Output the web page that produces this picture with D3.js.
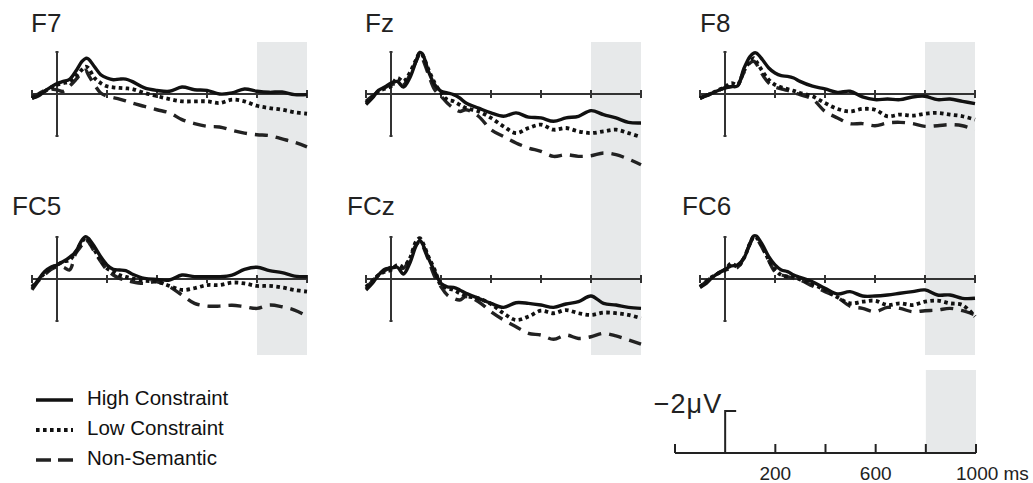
<!DOCTYPE html>
<html>
<head>
<meta charset="utf-8">
<script src="https://cdn.jsdelivr.net/npm/d3@7"></script>
<style>
  body { margin: 0; background: #fff; }
  svg { display: block; font-family: "Liberation Sans", Arial, sans-serif; }
</style>
</head>
<body>
<svg id="chart" width="1033" height="483"></svg>
<script>
// ERP grand averages, µV (negative plotted up), sampled at these latencies (ms)
var times = [-100,-75,-50,-25,0,25,50,75,100,115,125,150,175,200,225,250,275,300,
             350,400,450,500,550,600,650,700,750,800,850,900,950,1000];

var conditions = ["High Constraint", "Low Constraint", "Non-Semantic"];

var f7High = [0.2,0.1,-0.13,-0.33,-0.5,-0.6,-0.7,-1.08,-1.55,-1.7,-1.67,-1.3,-0.92,-0.76,-0.68,-0.71,-0.71,-0.6,-0.29,-0.17,-0.13,-0.33,-0.2,-0.17,0,-0.05,-0.24,-0.13,-0.08,-0.1,0.03,0.03];
var f7Low  = [0.2,0.05,-0.13,-0.3,-0.44,-0.52,-0.6,-0.84,-1.16,-1.3,-1.24,-0.76,-0.52,-0.37,-0.32,-0.29,-0.27,-0.24,-0.05,0.1,0.24,0.35,0.35,0.35,0.43,0.27,0.35,0.56,0.67,0.75,0.87,0.94];
var f7Non  = [0.1,0,-0.17,-0.24,-0.2,-0.13,-0.37,-0.68,-1.03,-1.13,-0.92,-0.44,-0.05,0.1,0.17,0.24,0.33,0.43,0.59,0.75,0.9,1.22,1.41,1.54,1.57,1.73,1.86,1.94,1.98,2.14,2.3,2.52];

var fzHigh = [0.5,0.2,-0.17,-0.33,-0.52,-0.6,-0.33,-0.76,-1.55,-1.98,-1.92,-1.08,-0.44,-0.13,-0.05,0.03,0.19,0.43,0.67,0.9,1.06,0.9,1.1,1.14,1.3,1.14,1.06,0.79,0.98,1.14,1.35,1.38];
var fzLow  = [0.43,0.15,-0.13,-0.25,-0.37,-0.76,-0.6,-1.0,-1.63,-1.95,-1.87,-1.16,-0.52,-0.05,0.27,0.35,0.51,0.67,0.83,1.14,1.54,1.86,1.62,1.46,1.7,1.62,1.78,1.86,1.78,1.7,1.86,2.05];
var fzNon  = [0.35,0.1,-0.13,-0.3,-0.44,-0.5,-0.44,-0.9,-1.55,-1.87,-1.71,-0.92,-0.2,0.1,0.43,0.67,0.83,0.75,1.06,1.7,2.02,2.33,2.57,2.73,2.97,2.89,2.97,2.94,2.81,2.89,3.1,3.37];

var f8High = [0.2,0.08,-0.05,-0.18,-0.29,-0.35,-0.38,-1.2,-1.79,-1.95,-1.95,-1.63,-1.24,-1.0,-0.87,-0.84,-0.76,-0.6,-0.37,-0.24,-0.08,-0.13,0.14,0.27,0.24,0.27,0.14,0.11,0.27,0.24,0.35,0.46];
var f8Low  = [0.2,0.08,-0.05,-0.2,-0.33,-0.52,-0.44,-1.08,-1.55,-1.71,-1.55,-1.08,-0.68,-0.44,-0.32,-0.24,-0.15,-0.05,0.11,0.43,0.71,0.83,0.71,0.75,1.06,0.98,1.03,0.94,0.9,0.98,1.06,1.22];
var f8Non  = [0.2,0.08,-0.05,-0.18,-0.29,-0.35,-0.44,-1.0,-1.48,-1.56,-1.44,-0.92,-0.52,-0.33,-0.25,-0.17,-0.08,0.03,0.24,0.83,1.14,1.41,1.41,1.51,1.38,1.35,1.41,1.54,1.51,1.46,1.51,1.7];

var fc5High = [0.44,0.05,-0.35,-0.56,-0.67,-0.83,-1.03,-1.3,-1.86,-2.02,-1.94,-1.54,-1.06,-0.67,-0.46,-0.43,-0.4,-0.24,-0.03,0.02,0.05,-0.19,-0.11,-0.11,-0.11,-0.19,-0.46,-0.56,-0.4,-0.3,-0.14,-0.11];
var fc5Low  = [0.37,0.05,-0.27,-0.5,-0.67,-0.83,-0.9,-1.3,-1.78,-1.98,-1.89,-1.38,-0.9,-0.51,-0.35,-0.19,-0.1,-0.03,0.08,0.13,0.33,0.52,0.44,0.29,0.29,0.17,0.21,0.33,0.33,0.4,0.52,0.6];
var fc5Non  = [0.52,0.1,-0.19,-0.45,-0.59,-0.56,-0.43,-1.22,-1.62,-1.89,-1.78,-1.3,-0.83,-0.43,-0.19,-0.03,0.05,0.13,0.21,0.13,0.37,0.76,1.16,1.29,1.29,1.25,1.32,1.4,1.24,1.32,1.48,1.76];

var fczHigh = [0.52,0.21,-0.19,-0.46,-0.51,-0.56,-0.24,-0.75,-1.57,-1.83,-1.7,-0.98,-0.35,0.21,0.37,0.4,0.52,0.68,0.92,1.16,1.35,1.13,1.16,1.24,1.35,1.19,1.08,0.81,1.16,1.24,1.35,1.4];
var fczLow  = [0.37,0.1,-0.19,-0.35,-0.43,-0.67,-0.59,-0.98,-1.78,-1.94,-1.78,-1.06,-0.43,0.29,0.44,0.52,0.68,0.81,0.92,1.19,1.63,1.95,1.79,1.51,1.63,1.48,1.63,1.71,1.6,1.63,1.71,1.87];
var fczNon  = [0.44,0.1,-0.19,-0.4,-0.56,-0.55,-0.51,-1.0,-1.62,-1.78,-1.62,-0.9,-0.11,0.37,0.76,0.92,1.0,0.84,1.08,1.56,1.95,2.27,2.59,2.67,2.87,2.67,2.83,2.75,2.59,2.71,2.9,3.1];

var fc6High = [0.4,0.21,-0.08,-0.3,-0.46,-0.62,-0.67,-0.98,-1.7,-2.05,-2.05,-1.62,-1.06,-0.67,-0.43,-0.35,-0.19,-0.08,0.13,0.44,0.71,0.6,0.81,0.81,0.76,0.68,0.6,0.52,0.76,0.76,0.92,0.92];
var fc6Low  = [0.37,0.12,-0.11,-0.28,-0.43,-0.75,-0.59,-0.98,-1.7,-2.02,-1.98,-1.54,-0.9,-0.46,-0.19,-0.11,-0.11,0.02,0.24,0.52,0.87,1.16,1.08,1.03,1.24,1.16,1.24,1.08,1.03,1.16,1.24,1.79];
var fc6Non  = [0.37,0.12,-0.11,-0.28,-0.43,-0.5,-0.56,-1.0,-1.67,-1.98,-1.94,-1.46,-0.87,-0.35,-0.2,-0.11,-0.03,0.05,0.33,0.6,0.87,1.29,1.4,1.56,1.35,1.4,1.56,1.51,1.48,1.4,1.51,1.71];

var electrodes = ["F7", "Fz", "F8", "FC5", "FCz", "FC6"];
var waves = [
  [f7High, f7Low, f7Non], [fzHigh, fzLow, fzNon], [f8High, f8Low, f8Non],
  [fc5High, fc5Low, fc5Non], [fczHigh, fczLow, fczNon], [fc6High, fc6Low, fc6Non]
];

var panelTicks = [200, 400, 600, 800, 1000];
var scaleTicks = [-200, 200, 400, 600, 800, 1000];
var scaleLabels = [200, 600];
var window_ = [800, 1000]; // shaded analysis window

// line styles per condition
var styles = [
  {dash: null,      width: 3.4, color: "#111"},
  {dash: "3.6,3.4", width: 3.8, color: "#111"},
  {dash: "13,8",    width: 3.4, color: "#222"}
];

var svg = d3.select("#chart");
var colX = [57, 391, 725];   // pixel of t = 0 per column
var rowY = [94, 279];        // pixel of 0 µV per row
var titlePos = [[31, 32], [365, 32], [700, 32], [12, 215], [347, 215], [682, 215]];

function xScaleFor(c) {
  return d3.scaleLinear().domain([-100, 1000]).range([colX[c] - 25, colX[c] + 250]);
}
function yScaleFor(r) {
  return d3.scaleLinear().domain([-2, 2]).range([rowY[r] - 42, rowY[r] + 42]);
}

// gray windows, one per column spanning both rows
colX.forEach(function(cx, c) {
  var x = xScaleFor(c);
  svg.append("rect")
    .attr("x", x(window_[0])).attr("y", 42)
    .attr("width", x(window_[1]) - x(window_[0])).attr("height", 313)
    .attr("fill", "#e7e9ea");
});

electrodes.forEach(function(name, i) {
  var c = i % 3, r = Math.floor(i / 3);
  var x = xScaleFor(c), y = yScaleFor(r);
  var g = svg.append("g");

  // zero line + ticks
  g.append("line")
    .attr("x1", x(-100)).attr("x2", x(1000))
    .attr("y1", y(0)).attr("y2", y(0))
    .attr("stroke", "#333").attr("stroke-width", 2);
  g.selectAll(".tick").data([-100].concat(panelTicks)).enter().append("line")
    .attr("x1", d => x(d)).attr("x2", d => x(d))
    .attr("y1", y(0) - 4).attr("y2", y(0) + 4)
    .attr("stroke", "#333").attr("stroke-width", 2);
  // onset line
  g.append("line")
    .attr("x1", x(0)).attr("x2", x(0))
    .attr("y1", y(-2)).attr("y2", y(2))
    .attr("stroke", "#333").attr("stroke-width", 2);
  [-2, 2].forEach(function(v) {
    g.append("line")
      .attr("x1", x(0) - 1.5).attr("x2", x(0) + 1.5)
      .attr("y1", y(v)).attr("y2", y(v))
      .attr("stroke", "#333").attr("stroke-width", 2);
  });

  var line = d3.line()
    .x((d, k) => x(times[k]))
    .y(d => y(d))
    .curve(d3.curveCatmullRom.alpha(0.5));

  // draw non-semantic first so solid sits on top
  [2, 1, 0].forEach(function(k) {
    var s = styles[k];
    g.append("path")
      .attr("d", line(waves[i][k]))
      .attr("fill", "none")
      .attr("stroke", s.color)
      .attr("stroke-width", s.width)
      .attr("stroke-dasharray", s.dash)
      .attr("stroke-linejoin", "round");
  });

  svg.append("text")
    .attr("x", titlePos[i][0]).attr("y", titlePos[i][1])
    .attr("font-size", 26).attr("fill", "#222")
    .text(name);
});

// legend
var legend = svg.append("g");
conditions.forEach(function(label, k) {
  var s = styles[k];
  var base = 405 + k * 30;
  legend.append("line")
    .attr("x1", 36).attr("x2", 73)
    .attr("y1", base - 5).attr("y2", base - 5)
    .attr("stroke", s.color).attr("stroke-width", s.width)
    .attr("stroke-dasharray", k == 2 ? "15,7" : s.dash);
  legend.append("text")
    .attr("x", 87).attr("y", base)
    .attr("font-size", 20.5).attr("fill", "#111")
    .text(label);
});

// scale bar: time axis and 2 µV calibration
var sx = d3.scaleLinear().domain([-200, 1000]).range([675, 976]);
var sy = d3.scaleLinear().domain([0, -2]).range([453, 411]);
var bar = svg.append("g");
bar.append("rect")
  .attr("x", sx(window_[0])).attr("y", 370)
  .attr("width", sx(window_[1]) - sx(window_[0])).attr("height", sy(0) - 370)
  .attr("fill", "#e7e9ea");
bar.append("line")
  .attr("x1", sx(-200)).attr("x2", sx(1000))
  .attr("y1", sy(0)).attr("y2", sy(0))
  .attr("stroke", "#222").attr("stroke-width", 2);
bar.selectAll(".stick").data(scaleTicks).enter().append("line")
  .attr("x1", d => sx(d)).attr("x2", d => sx(d))
  .attr("y1", sy(0)).attr("y2", sy(0) - 9)
  .attr("stroke", "#222").attr("stroke-width", 2);
bar.append("path")
  .attr("d", "M" + sx(0) + "," + sy(0) + "V" + sy(-2) + "H" + (sx(0) + 11))
  .attr("fill", "none").attr("stroke", "#222").attr("stroke-width", 2);
bar.append("text")
  .attr("x", sx(0) - 3).attr("y", 413)
  .attr("text-anchor", "end")
  .attr("font-size", 27).attr("letter-spacing", 1).attr("fill", "#222")
  .text("\u22122\u03bcV");
bar.selectAll(".slab").data(scaleLabels).enter().append("text")
  .attr("x", d => sx(d)).attr("y", 480)
  .attr("text-anchor", "middle")
  .attr("font-size", 19).attr("fill", "#222")
  .text(d => d);
bar.append("text")
  .attr("x", sx(1000) - 20).attr("y", 480)
  .attr("font-size", 19).attr("fill", "#222")
  .text("1000 ms");
</script>
</body>
</html>
